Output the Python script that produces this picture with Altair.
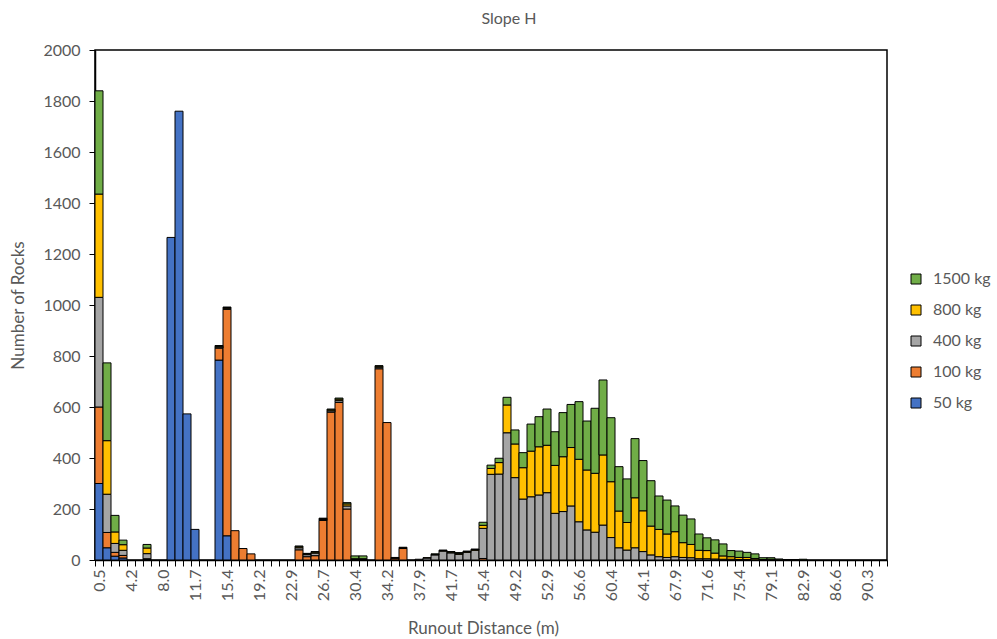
import json
import altair as alt
import pandas as pd

# Axis labels shown under every fourth runout bin (metres)
tick_labels = ['0.5', '4.2', '8.0', '11.7', '15.4', '19.2', '22.9', '26.7', '30.4',
               '34.2', '37.9', '41.7', '45.4', '49.2', '52.9', '56.6', '60.4', '64.1',
               '67.9', '71.6', '75.4', '79.1', '82.9', '86.6', '90.3']
n_bins = 99

# Rocks stopping in each runout bin, per block mass
kg50 = [300, 48, 15, 8, 0, 0, 2, 0, 0, 1265,
        1760, 573, 120, 0, 0, 784, 95, 0, 0, 0,
        0, 0, 0, 0, 0, 0, 0, 0, 0, 0,
        0, 0, 0, 0, 0, 0, 0, 0, 0, 0,
        0, 0, 0, 0, 0, 0, 0, 0, 0, 0,
        0, 0, 0, 0, 0, 0, 0, 0, 0, 0,
        0, 0, 0, 0, 0, 0, 0, 0, 0, 0,
        0, 0, 0, 0, 0, 0, 0, 0, 0, 0,
        0, 0, 0, 0, 0, 0, 0, 0, 0, 0,
        0, 0, 0, 0, 0, 0, 0, 0, 0]
kg100 = [300, 60, 15, 10, 0, 0, 3, 0, 0, 0,
         0, 0, 0, 0, 0, 47, 888, 115, 45, 24,
         0, 0, 0, 0, 0, 40, 13, 17, 155, 580,
         618, 200, 2, 2, 0, 750, 539, 5, 45, 0,
         0, 0, 0, 0, 0, 0, 0, 0, 6, 0,
         0, 0, 0, 0, 0, 0, 0, 0, 0, 0,
         0, 0, 0, 0, 0, 0, 0, 0, 0, 0,
         0, 0, 0, 0, 0, 0, 0, 0, 0, 0,
         0, 0, 0, 0, 0, 0, 0, 0, 0, 0,
         0, 0, 0, 0, 0, 0, 0, 0, 0]
kg400 = [430, 150, 35, 20, 0, 0, 20, 0, 0, 0,
         0, 0, 0, 0, 0, 4, 4, 0, 0, 0,
         0, 0, 0, 0, 0, 8, 8, 10, 4, 5,
         7, 12, 2, 2, 0, 6, 0, 3, 3, 0,
         3, 8, 20, 35, 28, 22, 30, 38, 118, 336,
         337, 499, 323, 239, 248, 255, 264, 183, 190, 212,
         150, 118, 109, 137, 88, 48, 39, 48, 33, 20,
         13, 10, 13, 10, 9, 5, 5, 4, 3, 3,
         2, 2, 1, 0, 1, 0, 0, 0, 0, 0,
         0, 0, 0, 0, 0, 0, 0, 0, 0]
kg800 = [405, 210, 45, 22, 0, 0, 22, 0, 0, 0,
         0, 0, 0, 0, 0, 3, 3, 0, 0, 0,
         0, 0, 0, 0, 0, 4, 3, 4, 3, 4,
         6, 8, 1, 1, 0, 4, 0, 2, 2, 0,
         0, 1, 2, 2, 3, 4, 3, 3, 12, 23,
         45, 109, 132, 123, 179, 189, 186, 188, 215, 229,
         245, 235, 231, 275, 219, 144, 108, 196, 160, 113,
         107, 92, 98, 58, 52, 33, 32, 23, 13, 10,
         8, 8, 5, 2, 2, 1, 0, 0, 0, 0,
         0, 0, 0, 0, 0, 0, 0, 0, 0]
kg1500 = [405, 305, 65, 18, 0, 0, 14, 0, 0, 0,
          0, 0, 0, 0, 0, 3, 2, 0, 0, 0,
          0, 0, 0, 0, 0, 3, 2, 2, 2, 3,
          4, 5, 11, 11, 0, 2, 0, 0, 0, 0,
          0, 0, 2, 2, 2, 3, 2, 2, 12, 13,
          17, 30, 55, 59, 106, 118, 142, 132, 173, 169,
          226, 192, 255, 294, 251, 174, 171, 232, 197, 178,
          131, 133, 101, 108, 100, 64, 50, 52, 47, 24,
          25, 20, 18, 7, 6, 3, 2, 2, 3, 0,
          0, 0, 0, 0, 0, 0, 0, 0, 0]

# Stack order: lightest block at the bottom
series = [('50 kg', kg50, '#4472C4'),
          ('100 kg', kg100, '#ED7D31'),
          ('400 kg', kg400, '#A5A5A5'),
          ('800 kg', kg800, '#FFC000'),
          ('1500 kg', kg1500, '#70AD47')]

rows = []
for rank, (name, values, _) in enumerate(series):
    for i, v in enumerate(values):
        if v > 0:
            rows.append({'bin': i, 'mass': name, 'count': v, 'rank': rank})
df = pd.DataFrame(rows)

legend_order = [s[0] for s in reversed(series)]
legend_colors = [s[2] for s in reversed(series)]

FONT = 'Lato'
TXT = '#595959'

label_expr = ("datum.value % 4 === 0 ? " + json.dumps(tick_labels) +
              "[datum.value / 4] : ''")

chart = alt.Chart(df).mark_bar(stroke='black', strokeWidth=1).encode(
    x=alt.X('bin:O',
            scale=alt.Scale(domain=list(range(n_bins)), paddingInner=0, paddingOuter=0),
            axis=alt.Axis(values=list(range(n_bins)), labelExpr=label_expr,
                          labelAngle=-90, labelOverlap=False, tickBand='extent',
                          tickSize=6, tickColor='black', tickWidth=1,
                          domainColor='black', domainWidth=1.5,
                          labelFontSize=16, labelColor=TXT, labelFont=FONT,
                          labelPadding=3,
                          title='Runout Distance (m)', titleFontSize=17,
                          titleColor=TXT, titleFont=FONT, titleFontWeight='normal',
                          titleX=388, titleY=68, titleBaseline='middle',
                          titleAlign='center')),
    y=alt.Y('count:Q', stack='zero',
            scale=alt.Scale(domain=[0, 2000], nice=False),
            axis=alt.Axis(values=list(range(0, 2001, 200)), grid=False, format='d',
                          tickSize=6, tickColor='black', tickWidth=1,
                          domainColor='black', domainWidth=1.5,
                          labelFontSize=16, labelColor=TXT, labelFont=FONT,
                          labelPadding=9,
                          title='Number of Rocks', titleFontSize=17,
                          titleColor=TXT, titleFont=FONT, titleFontWeight='normal',
                          titleX=-77, titleY=255, titleAngle=-90,
                          titleBaseline='middle', titleAlign='center')),
    color=alt.Color('mass:N',
                    scale=alt.Scale(domain=legend_order, range=legend_colors),
                    legend=alt.Legend(title=None, orient='none', legendX=813, legendY=221,
                                      symbolType='square', symbolSize=100,
                                      symbolStrokeColor='black', symbolStrokeWidth=1,
                                      labelFontSize=16, labelColor=TXT, labelFont=FONT,
                                      labelOffset=9, rowPadding=15, padding=0)),
    order=alt.Order('rank:Q', sort='ascending'),
).properties(
    width=792, height=510,
    title=alt.TitleParams('Slope H', anchor='middle', frame='group', fontSize=16,
                          color=TXT, font=FONT, fontWeight='normal', offset=15, dx=18),
    padding={'left': 95, 'top': 50, 'right': 110, 'bottom': 79},
    autosize=alt.AutoSizeParams(type='none'),
).configure_view(stroke='black', strokeWidth=1.5)

chart.save('out.html', embed_options={'renderer': 'svg', 'actions': False})
